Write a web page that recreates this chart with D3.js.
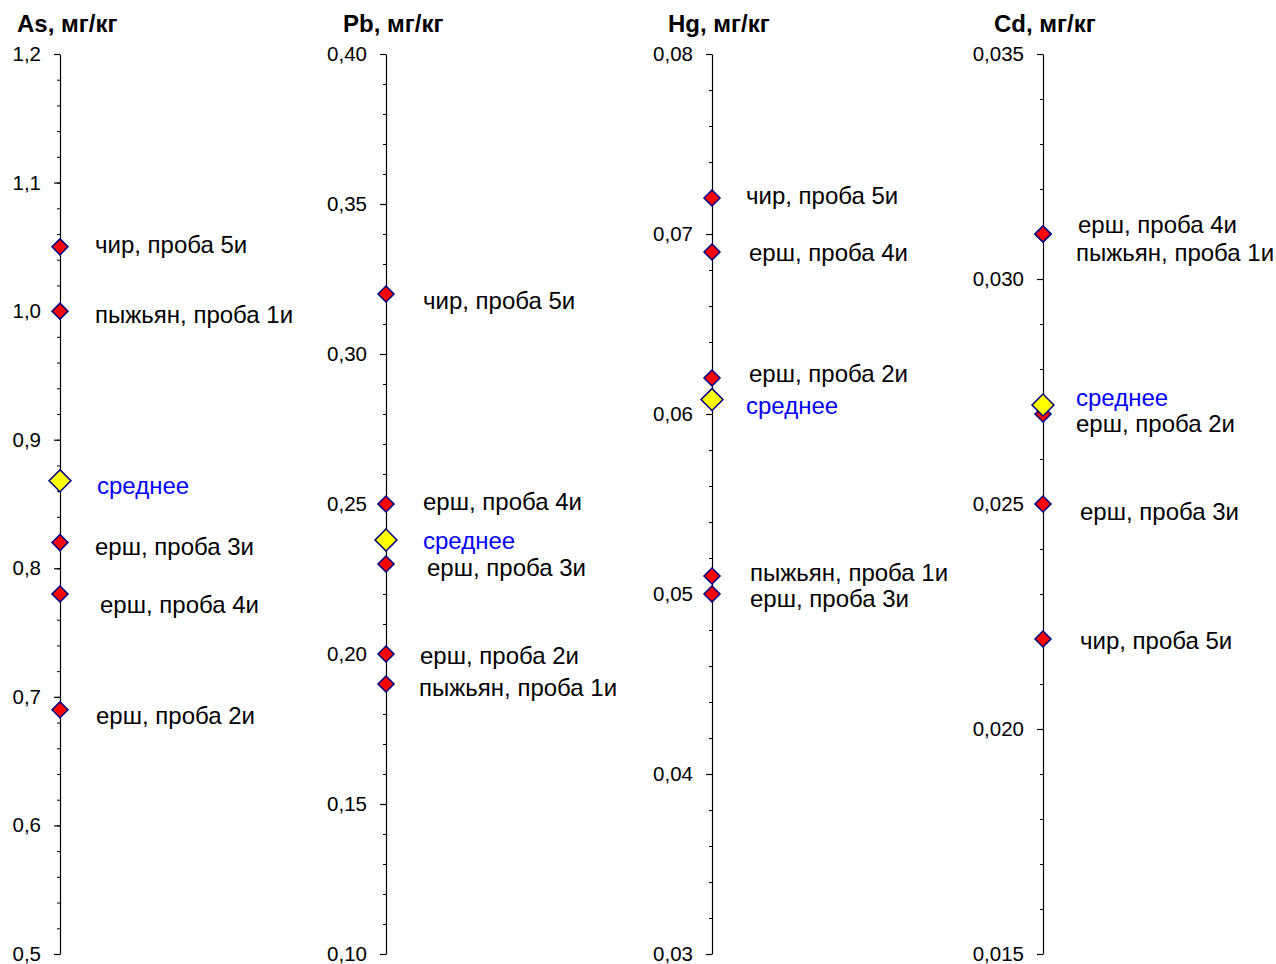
<!DOCTYPE html>
<html><head><meta charset="utf-8">
<script src="https://cdn.jsdelivr.net/npm/d3@7"></script>
<style>body{margin:0;background:#fff}svg{display:block}text{font-family:"Liberation Sans",Arial,sans-serif}</style>
</head><body>
<svg id="c" width="1276" height="964"></svg>
<script>
// ---- data ----
const panelTitles = ["As, мг/кг", "Pb, мг/кг", "Hg, мг/кг", "Cd, мг/кг"];
const panelDomains = [[0.5, 1.2], [0.10, 0.40], [0.03, 0.08], [0.015, 0.035]];
const panelMajorTicks = [
  [0.5, 0.6, 0.7, 0.8, 0.9, 1.0, 1.1, 1.2],
  [0.10, 0.15, 0.20, 0.25, 0.30, 0.35, 0.40],
  [0.03, 0.04, 0.05, 0.06, 0.07, 0.08],
  [0.015, 0.020, 0.025, 0.030, 0.035]
];
const panelTickDecimals = [1, 2, 2, 3];
const panelMinorCounts = [35, 30, 25, 20];

const asNames = ["чир, проба 5и", "пыжьян, проба 1и", "ерш, проба 3и", "ерш, проба 4и", "ерш, проба 2и"];
const asValues = [1.05, 1.00, 0.82, 0.78, 0.69];
const asMean = 0.868;

const pbNames = ["чир, проба 5и", "ерш, проба 4и", "ерш, проба 3и", "ерш, проба 2и", "пыжьян, проба 1и"];
const pbValues = [0.32, 0.25, 0.23, 0.20, 0.19];
const pbMean = 0.238;

const hgNames = ["чир, проба 5и", "ерш, проба 4и", "ерш, проба 2и", "пыжьян, проба 1и", "ерш, проба 3и"];
const hgValues = [0.072, 0.069, 0.062, 0.051, 0.050];
const hgMean = 0.0608;

const cdNames = ["ерш, проба 4и", "пыжьян, проба 1и", "ерш, проба 2и", "ерш, проба 3и", "чир, проба 5и"];
const cdValues = [0.031, 0.031, 0.027, 0.025, 0.022];
const cdMean = 0.0272;

const meanLabel = "среднее";

// ---- layout (label nudges, px; not data) ----
const axisX = [60, 386, 712, 1043];
const titleX = [17, 343, 668, 994];
const labelDx = [
  [35, 35, 35, 40, 36],
  [37, 37, 41, 34, 33],
  [34, 37, 37, 38, 38],
  [35, 33, 33, 37, 37]
];
const labelDy = [
  [-2, 3, 4, 11, 6],
  [7, -2, 4, 2, 4],
  [-2, 1, -4, -3, 5],
  [-9, 19, 10, 8, 2]
];
const meanDx = [37, 37, 34, 33];
const meanDy = [5, 1, 6, -7];

const panels = [
  {names: asNames, values: asValues, mean: asMean},
  {names: pbNames, values: pbValues, mean: pbMean},
  {names: hgNames, values: hgValues, mean: hgMean},
  {names: cdNames, values: cdValues, mean: cdMean}
];

const svg = d3.select("#c");
const plotTop = 54, plotBottom = 954;
const loc = d3.formatLocale({decimal: ",", thousands: " ", grouping: [3], currency: ["", ""]});
const diamond = d3.symbol().type(d3.symbolSquare);

panels.forEach((p, i) => {
  const y = d3.scaleLinear().domain(panelDomains[i]).range([plotBottom, plotTop]);
  const g = svg.append("g").attr("transform", `translate(${axisX[i]},0)`);
  const fmt = loc.format(`.${panelTickDecimals[i]}f`);

  const minor = d3.range(panelMinorCounts[i] + 1).map(k =>
    panelDomains[i][0] + k * (panelDomains[i][1] - panelDomains[i][0]) / panelMinorCounts[i]);
  g.append("g").call(d3.axisLeft(y).tickValues(minor).tickSize(3).tickSizeOuter(0).tickFormat(""))
    .call(s => s.select(".domain").remove())
    .call(s => s.selectAll("line").attr("stroke", "#000").attr("stroke-width", 1));

  const ax = g.append("g").call(d3.axisLeft(y).tickValues(panelMajorTicks[i]).tickSize(6).tickSizeOuter(0).tickPadding(13).tickFormat(fmt));
  ax.select(".domain").attr("stroke", "#000").attr("stroke-width", 1.2);
  ax.selectAll("line").attr("stroke", "#000").attr("stroke-width", 1.2);
  ax.selectAll("text").attr("font-size", 20.5).attr("fill", "#000")
    .attr("font-family", '"Liberation Sans",Arial,sans-serif');

  svg.append("text").attr("x", titleX[i]).attr("y", 32)
    .attr("font-size", 24).attr("font-weight", "bold").attr("fill", "#000").text(panelTitles[i]);

  // points
  p.values.forEach((v, j) => {
    g.append("path").attr("d", diamond.size(128)())
      .attr("transform", `translate(0,${y(v)}) rotate(45)`)
      .attr("fill", "#ff0000").attr("stroke", "#000080").attr("stroke-width", 1.5);
    g.append("text").attr("x", labelDx[i][j]).attr("y", y(v) + labelDy[i][j]).attr("dy", "0.35em")
      .attr("font-size", 24).attr("fill", "#000").text(p.names[j]);
  });
  g.append("path").attr("d", diamond.size(240)())
    .attr("transform", `translate(0,${y(p.mean)}) rotate(45)`)
    .attr("fill", "#ffff00").attr("stroke", "#000080").attr("stroke-width", 1.5);
  g.append("text").attr("x", meanDx[i]).attr("y", y(p.mean) + meanDy[i]).attr("dy", "0.35em")
    .attr("font-size", 24).attr("fill", "#0000ff").text(meanLabel);
});
</script>
</body></html>
